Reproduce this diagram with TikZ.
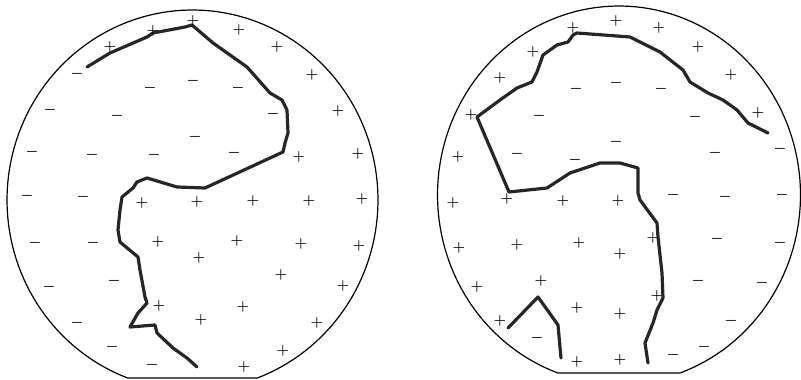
\documentclass[tikz,border=0pt]{standalone}
\begin{document}
\begin{tikzpicture}[x=1pt,y=-1pt,
  sgn/.style={font=\fontsize{14}{14}\selectfont\boldmath, inner sep=0pt},
  boundary/.style={line width=1.2pt},
  front/.style={line width=3.2pt, line join=round, line cap=round, black!85}]
\useasboundingbox (0,0) rectangle (801,380);
% outlines
\draw[boundary] plot[domain=110.5:429.5, samples=150] ({192.5+185.5*cos(\x)},{200+190*sin(\x)}) -- cycle;
\draw[boundary] plot[domain=109.65:430.35, samples=150] ({619+181.5*cos(\x)},{195+189*sin(\x)}) -- cycle;
% left front line
\draw[front] (87,67) -- (110,53) -- (147,37) -- (153,33) -- (185,27) -- (192,25)
  -- (213,43) -- (247,67) -- (270,93) -- (282,100) -- (287,110) -- (288,133)
  -- (285,143) -- (283,152) -- (205,188) -- (177,187) -- (147,178) -- (137,182)
  -- (133,188) -- (122,197) -- (120,210) -- (118,230) -- (120,242) -- (138,257)
  -- (140,270) -- (145,297) -- (147,303) -- (138,313) -- (130,327) -- (155,325)
  -- (157,333) -- (173,348) -- (187,358) -- (197,367);
% right front line
\draw[front] (768,133) -- (748,123) -- (737,110) -- (723,100) -- (708,93) -- (690,82)
  -- (683,70) -- (660,52) -- (630,37) -- (577,33) -- (573,35) -- (568,42) -- (557,45)
  -- (543,55) -- (537,72) -- (532,82) -- (517,88) -- (500,100) -- (477,117)
  -- (509,192) -- (547,188) -- (570,173) -- (600,163) -- (620,163) -- (638,168)
  -- (638,193) -- (640,200) -- (657,223) -- (658,237) -- (662,273) -- (663,298)
  -- (657,310) -- (653,323) -- (645,343) -- (648,363);
\draw[front] (508,328) -- (538,297) -- (558,325) -- (561,358);
% left circle signs
\foreach \a/\b [count=\i] in {193/21,153/31,110/47,239/30,277/47,312/75,338/111,299/157,358/154,
  142/203,197/202,253/201,309/201,362/199,158/242,237/241,301/244,359/246,199/258,281/275,
  343/286,159/306,243/307,201/320,317/323,283/351,244/367}
  \node[sgn] (lp\i) at (\a,\b) {$+$};
\foreach \a/\b [count=\i] in {77/74,150/88,193/81,238/88,50/110,117/116,273/114,195/137,
  32/152,92/155,154/155,234/153,27/196,83/197,35/243,93/243,49/287,114/281,77/323,112/347,152/365}
  \node[sgn] (lm\i) at (\a,\b) {$-$};
% right circle signs
\foreach \a/\b [count=\i] in {573/28,616/21,659/28,698/47,731/75,758/113,533/52,500/78,471/115,458/157,
  453/203,507/199,563/201,618/201,459/248,517/245,579/243,620/254,653/238,477/287,541/281,
  657/296,577/308,620/314,500/321,577/362,620/360}
  \node[sgn] (rp\i) at (\a,\b) {$+$};
\foreach \a/\b [count=\i] in {576/89,616/83,661/89,539/116,695/117,616/142,517/154,575/160,715/153,780/149,
  673/195,725/197,782/195,717/239,780/243,698/281,762/283,731/321,537/338,704/347,673/355}
  \node[sgn] (rm\i) at (\a,\b) {$-$};
\end{tikzpicture}
\end{document}
